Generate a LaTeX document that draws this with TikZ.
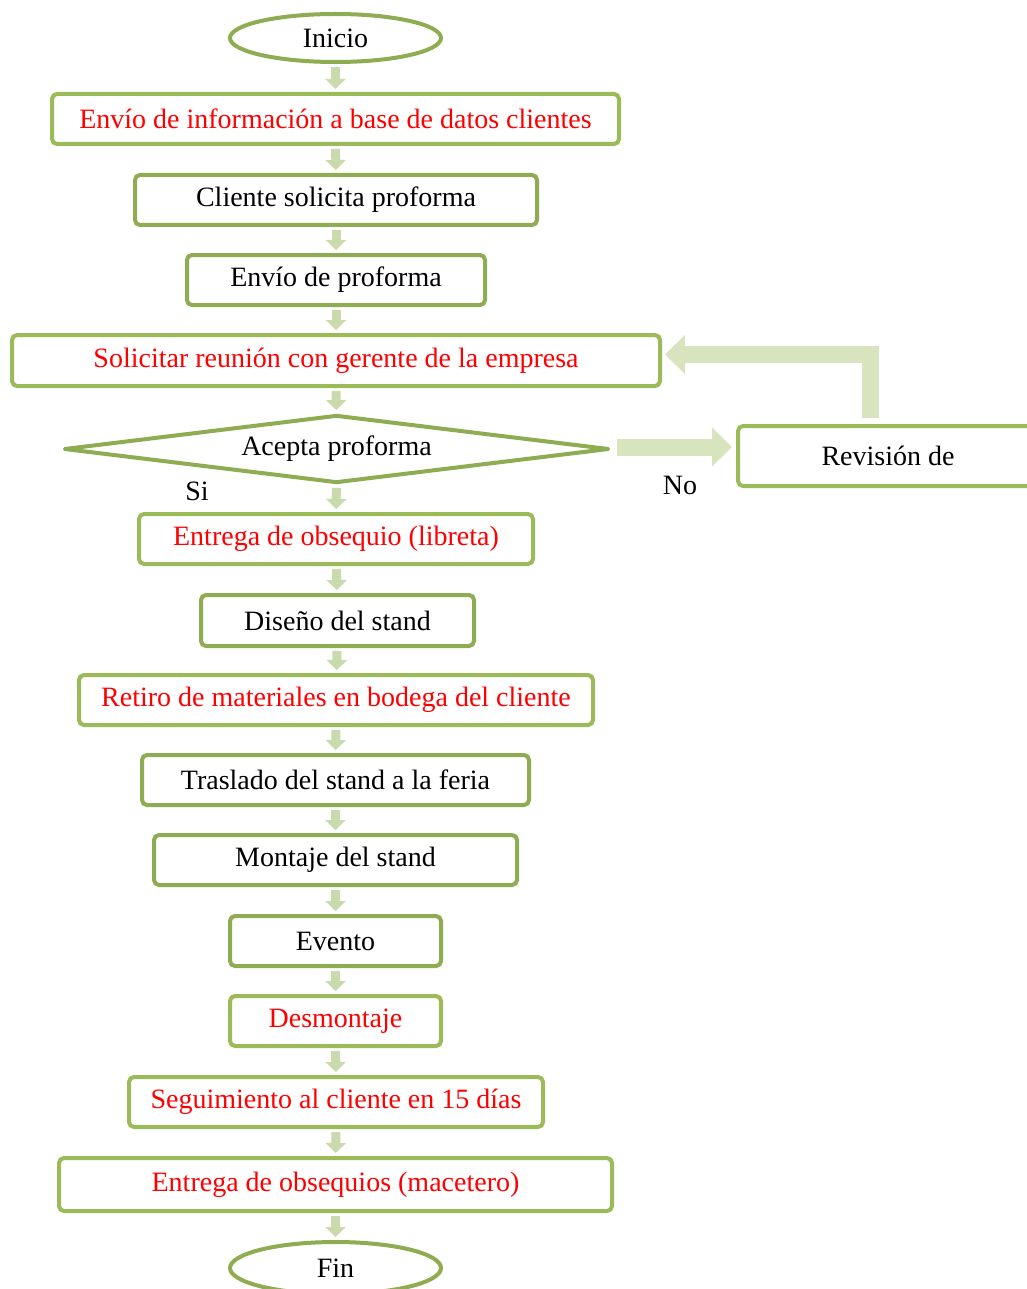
\documentclass[tikz,border=0pt]{standalone}
\usepackage{fontspec}
\setmainfont{Liberation Serif}
\usepackage{xcolor}
\usetikzlibrary{arrows.meta,shapes.geometric,calc,positioning}
\definecolor{gdark}{HTML}{8EAC52}
\definecolor{glight}{HTML}{9BBB59}
\definecolor{gflw}{HTML}{C9DAAC}
\definecolor{gbig}{HTML}{D7E4BD}
\tikzset{pbox/.style={draw=gdark, line width=4pt, rounded corners=5pt, minimum height=50pt, inner sep=0pt, font=\fontsize{28}{33}\selectfont},
    pboxr/.style={pbox, draw=glight, text=red},
    pell/.style={ellipse, draw=gdark, line width=4pt, inner sep=0pt, font=\fontsize{28}{33}\selectfont},
    lbl/.style={font=\fontsize{28}{33}\selectfont},
    flw/.style={draw=gflw, line width=9pt, -{Triangle[width=20pt,length=10pt]}, shorten <=3pt, shorten >=3pt},
    bigflw/.style={draw=gbig, line width=17pt, -{Triangle[width=38pt,length=20pt]}}}

\begin{document}
\begin{tikzpicture}[x=1pt, y=-1pt]
                                \useasboundingbox (0,0) rectangle (1026,1289);
                                \node[pell, minimum width=211pt, minimum height=48pt] (inicio) at (335.5,38) {Inicio};
                                \node[pboxr, minimum width=567pt] (b1) at (335.5,119) {Envío de información a base de datos clientes};
                                \node[pbox, minimum width=402pt] (b2) at (336,200) {Cliente solicita proforma};
                                \node[pbox, minimum width=298pt] (b3) at (336,280) {Envío de proforma};
                                \node[pboxr, minimum width=648pt, minimum height=51pt] (b4) at (336,360.5) {Solicitar reunión con gerente de la empresa};
                                \node[diamond, shape aspect=7.6, draw=gdark, line width=4pt, line join=round, inner sep=0pt, minimum width=545pt, minimum height=68pt, lbl] (dec) at (336.5,449) {Acepta proforma};
                                \node[pbox, draw=glight, minimum width=300pt, minimum height=60pt] (rev) at (888,456) {Revisión de};
                                \node[pboxr, minimum width=394pt] (b5) at (336,539) {Entrega de obsequio (libreta)};
                                \node[pbox, minimum width=273pt, minimum height=51pt] (b6) at (337.5,620.5) {Diseño del stand};
                                \node[pboxr, minimum width=514pt] (b7) at (336,700) {Retiro de materiales en bodega del cliente};
                                \node[pbox, minimum width=387pt] (b8) at (335.5,780) {Traslado del stand a la feria};
                                \node[pbox, minimum width=363pt] (b9) at (335.5,860) {Montaje del stand};
                                \node[pbox, minimum width=211pt] (b10) at (335.5,941) {Evento};
                                \node[pboxr, minimum width=211pt] (b11) at (335.5,1021) {Desmontaje};
                                \node[pboxr, minimum width=414pt] (b12) at (336,1102) {Seguimiento al cliente en 15 días};
                                \node[pboxr, minimum width=553pt, minimum height=53pt] (b13) at (335.5,1184.5) {Entrega de obsequios (macetero)};
                                \node[pell, minimum width=211pt, minimum height=52pt] (fin) at (335.5,1268) {Fin};
                                \node[lbl] (si) at (197,491) {Si};
                                \node[lbl] (no) at (680,485) {No};
                                \draw[flw] (inicio) -- (b1);
                                \draw[flw] (b1) -- (b2);
                                \draw[flw] (b2) -- (b3);
                                \draw[flw] (b3) -- (b4);
                                \draw[flw] (b4) -- (dec);
                                \draw[flw] (dec) -- (b5);
                                \draw[flw] (b5) -- (b6);
                                \draw[flw] (b6) -- (b7);
                                \draw[flw] (b7) -- (b8);
                                \draw[flw] (b8) -- (b9);
                                \draw[flw] (b9) -- (b10);
                                \draw[flw] (b10) -- (b11);
                                \draw[flw] (b11) -- (b12);
                                \draw[flw] (b12) -- (b13);
                                \draw[flw] (b13) -- (fin);
                                \draw[bigflw, shorten <=6pt, shorten >=4pt] (dec.east |- 0,447) -- (rev.west |- 0,447);
                                \coordinate (ret) at (870,0);
                                \draw[bigflw, shorten <=6pt, shorten >=3pt] (rev.north -| ret) |- ([yshift=6pt]b4.east);
                            \end{tikzpicture}
\end{document}
